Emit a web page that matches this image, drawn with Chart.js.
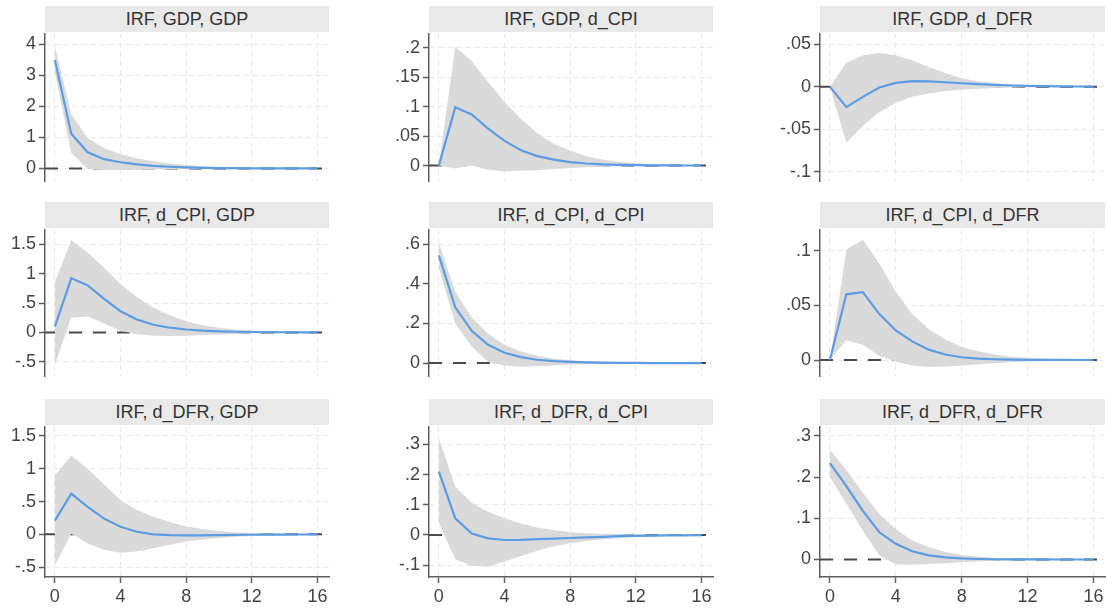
<!DOCTYPE html>
<html><head><meta charset="utf-8">
<script src="https://cdn.jsdelivr.net/npm/chart.js@4/dist/chart.umd.min.js"></script>
<style>
html,body{margin:0;padding:0;background:#fff;width:1108px;height:611px;overflow:hidden;}
.title{position:absolute;background:#e9e9e9;color:#333;font:18px "Liberation Sans",Arial,sans-serif;text-align:center;white-space:nowrap;}
canvas{position:absolute;}
</style></head><body>
<script>
// ---------- data ----------
const steps = [0,1,2,3,4,5,6,7,8,9,10,11,12,13,14,15,16];
const xTicks = [0,4,8,12,16];
const titles = ['IRF, GDP, GDP','IRF, GDP, d_CPI','IRF, GDP, d_DFR',
                'IRF, d_CPI, GDP','IRF, d_CPI, d_CPI','IRF, d_CPI, d_DFR',
                'IRF, d_DFR, GDP','IRF, d_DFR, d_CPI','IRF, d_DFR, d_DFR'];

const irf_GDP_GDP = [3.5,1.12,0.52,0.3,0.2,0.13,0.085,0.055,0.035,0.022,0.014,0.009,0.006,0.004,0.002,0.001,0.001];
const hi_GDP_GDP  = [3.95,1.75,0.98,0.66,0.46,0.33,0.23,0.16,0.11,0.075,0.05,0.033,0.022,0.014,0.009,0.006,0.004];
const lo_GDP_GDP  = [3.1,0.5,-0.02,-0.05,-0.05,-0.045,-0.035,-0.028,-0.02,-0.015,-0.01,-0.007,-0.005,-0.003,-0.002,-0.001,-0.001];

const irf_GDP_CPI = [0,0.099,0.087,0.063,0.042,0.026,0.016,0.01,0.006,0.0035,0.002,0.0012,0.0007,0.0004,0.0002,0.0001,0.0001];
const hi_GDP_CPI  = [0,0.202,0.178,0.142,0.108,0.079,0.055,0.037,0.025,0.016,0.01,0.006,0.004,0.0025,0.0015,0.001,0.0006];
const lo_GDP_CPI  = [0,-0.005,0.0,-0.007,-0.01,-0.009,-0.008,-0.006,-0.004,-0.003,-0.002,-0.0013,-0.0008,-0.0005,-0.0003,-0.0002,-0.0001];

const irf_GDP_DFR = [0,-0.024,-0.012,-0.001,0.0045,0.0065,0.0062,0.0052,0.004,0.003,0.0021,0.0014,0.0009,0.0006,0.0004,0.0002,0.0001];
const hi_GDP_DFR  = [0,0.028,0.037,0.0395,0.037,0.031,0.023,0.016,0.01,0.0065,0.0042,0.0027,0.0017,0.0011,0.0007,0.0004,0.0003];
const lo_GDP_DFR  = [0,-0.066,-0.046,-0.03,-0.019,-0.012,-0.008,-0.005,-0.0035,-0.0024,-0.0016,-0.001,-0.0007,-0.0004,-0.0003,-0.0002,-0.0001];

const irf_CPI_GDP = [0.1,0.92,0.8,0.57,0.36,0.22,0.13,0.08,0.05,0.03,0.018,0.011,0.007,0.004,0.0025,0.0015,0.001];
const hi_CPI_GDP  = [0.85,1.57,1.36,1.1,0.82,0.6,0.42,0.29,0.19,0.12,0.08,0.05,0.032,0.02,0.013,0.008,0.005];
const lo_CPI_GDP  = [-0.55,0.25,0.27,0.15,0.03,-0.03,-0.055,-0.06,-0.055,-0.045,-0.035,-0.025,-0.016,-0.01,-0.006,-0.004,-0.002];

const irf_CPI_CPI = [0.543,0.281,0.163,0.092,0.052,0.03,0.017,0.01,0.006,0.0035,0.002,0.0012,0.0007,0.0004,0.0002,0.0001,0.0001];
const hi_CPI_CPI  = [0.605,0.36,0.23,0.148,0.092,0.058,0.037,0.023,0.015,0.009,0.006,0.004,0.0025,0.0015,0.001,0.0006,0.0004];
const lo_CPI_CPI  = [0.48,0.2,0.085,0.006,-0.012,-0.018,-0.016,-0.012,-0.008,-0.005,-0.003,-0.002,-0.0012,-0.0008,-0.0005,-0.0003,-0.0002];

const irf_CPI_DFR = [0,0.06,0.062,0.042,0.027,0.017,0.0095,0.005,0.0025,0.0013,0.0007,0.0004,0.0002,0.0001,0.0001,0,0];
const hi_CPI_DFR  = [0,0.101,0.11,0.088,0.0625,0.042,0.028,0.019,0.012,0.008,0.005,0.003,0.002,0.0013,0.0008,0.0005,0.0003];
const lo_CPI_DFR  = [0,0.018,0.014,0.004,-0.0015,-0.005,-0.0065,-0.006,-0.005,-0.004,-0.003,-0.002,-0.0013,-0.0008,-0.0005,-0.0003,-0.0002];

const irf_DFR_GDP = [0.21,0.62,0.42,0.24,0.116,0.04,0.0,-0.012,-0.016,-0.015,-0.012,-0.009,-0.006,-0.004,-0.003,-0.002,-0.001];
const hi_DFR_GDP  = [0.9,1.2,1.0,0.76,0.52,0.37,0.27,0.19,0.12,0.08,0.05,0.03,0.02,0.012,0.008,0.005,0.003];
const lo_DFR_GDP  = [-0.47,0.01,-0.14,-0.24,-0.28,-0.26,-0.21,-0.16,-0.11,-0.08,-0.055,-0.037,-0.025,-0.016,-0.01,-0.007,-0.005];

const irf_DFR_CPI = [0.21,0.055,0.005,-0.011,-0.0165,-0.016,-0.014,-0.012,-0.01,-0.008,-0.006,-0.004,-0.003,-0.002,-0.0015,-0.001,-0.0005];
const hi_DFR_CPI  = [0.32,0.16,0.107,0.077,0.055,0.038,0.025,0.016,0.01,0.006,0.004,0.003,0.002,0.001,0.0007,0.0004,0.0002];
const lo_DFR_CPI  = [0.04,-0.08,-0.102,-0.105,-0.088,-0.07,-0.052,-0.037,-0.027,-0.02,-0.014,-0.01,-0.007,-0.005,-0.003,-0.002,-0.001];

const irf_DFR_DFR = [0.234,0.178,0.118,0.066,0.038,0.02,0.01,0.005,0.0025,0.0012,0.0006,0.0003,0.0002,0.0001,0,0,0];
const hi_DFR_DFR  = [0.266,0.217,0.162,0.11,0.074,0.046,0.03,0.018,0.011,0.007,0.004,0.0025,0.0015,0.001,0.0006,0.0004,0.0002];
const lo_DFR_DFR  = [0.2,0.135,0.07,0.01,-0.012,-0.013,-0.011,-0.009,-0.007,-0.005,-0.003,-0.002,-0.0012,-0.0008,-0.0005,-0.0003,-0.0002];

const yTicks_GDP_GDP = [0,1,2,3,4];
const yTicks_GDP_CPI = [0,0.05,0.1,0.15,0.2];
const yTicks_GDP_DFR = [-0.1,-0.05,0,0.05];
const yTicks_CPI_GDP = [-0.5,0,0.5,1,1.5];
const yTicks_CPI_CPI = [0,0.2,0.4,0.6];
const yTicks_CPI_DFR = [0,0.05,0.1];
const yTicks_DFR_GDP = [-0.5,0,0.5,1,1.5];
const yTicks_DFR_CPI = [-0.1,0,0.1,0.2,0.3];
const yTicks_DFR_DFR = [0,0.1,0.2,0.3];

const yMin = [-0.41,-0.0266,-0.1112,-0.744,-0.066,-0.0148,-0.65,-0.139,-0.0425];
const yMax = [4.34,0.2241,0.0622,1.744,0.672,0.119,1.64,0.358,0.322];
const X_MIN = -0.6, X_MAX = 16.7;

// ---------- layout / style ----------
const colLeft = [45,429,820], colW = [284,284,285];
const rowTop = [32,228,425], rowH = [151,150,152];
const TITLE_H = 26, PAD_L = 45, PAD_T = 12, PAD_R = 14, PAD_B = 12, XAX_H = 34;
const FONT = '"Liberation Sans", Arial, sans-serif';
const BLUE = '#5b9ce4', BAND = '#dadada', GRID = '#e9e9e9', AXIS = '#5e5e5e', TICK = '#444', ZERO = '#4a4a4a';

const panels = [
  {irf: irf_GDP_GDP, hi: hi_GDP_GDP, lo: lo_GDP_GDP, yTicks: yTicks_GDP_GDP},
  {irf: irf_GDP_CPI, hi: hi_GDP_CPI, lo: lo_GDP_CPI, yTicks: yTicks_GDP_CPI},
  {irf: irf_GDP_DFR, hi: hi_GDP_DFR, lo: lo_GDP_DFR, yTicks: yTicks_GDP_DFR},
  {irf: irf_CPI_GDP, hi: hi_CPI_GDP, lo: lo_CPI_GDP, yTicks: yTicks_CPI_GDP},
  {irf: irf_CPI_CPI, hi: hi_CPI_CPI, lo: lo_CPI_CPI, yTicks: yTicks_CPI_CPI},
  {irf: irf_CPI_DFR, hi: hi_CPI_DFR, lo: lo_CPI_DFR, yTicks: yTicks_CPI_DFR},
  {irf: irf_DFR_GDP, hi: hi_DFR_GDP, lo: lo_DFR_GDP, yTicks: yTicks_DFR_GDP},
  {irf: irf_DFR_CPI, hi: hi_DFR_CPI, lo: lo_DFR_CPI, yTicks: yTicks_DFR_CPI},
  {irf: irf_DFR_DFR, hi: hi_DFR_DFR, lo: lo_DFR_DFR, yTicks: yTicks_DFR_DFR}
];

function fmt(v) {
  const s = String(+Number(v).toFixed(4));
  return s.replace(/^(-?)0\./, '$1.');
}
const pts = arr => steps.map((s, k) => ({x: s, y: arr[k]}));

panels.forEach((p, i) => {
  const r = Math.floor(i / 3), c = i % 3, bottom = (r === 2);
  const div = document.createElement('div');
  div.className = 'title';
  div.style.left = colLeft[c] + 'px';
  div.style.top = (rowTop[r] - TITLE_H) + 'px';
  div.style.width = colW[c] + 'px';
  div.style.height = TITLE_H + 'px';
  div.style.lineHeight = TITLE_H + 'px';
  div.textContent = titles[i];
  document.body.appendChild(div);

  const cv = document.createElement('canvas');
  const w = PAD_L + colW[c] + PAD_R, h = PAD_T + rowH[r] + (bottom ? XAX_H : PAD_B);
  cv.width = w; cv.height = h;
  cv.style.width = w + 'px'; cv.style.height = h + 'px';
  cv.style.left = (colLeft[c] - PAD_L) + 'px';
  cv.style.top = (rowTop[r] - PAD_T) + 'px';
  document.body.appendChild(cv);

  new Chart(cv, {
    type: 'line',
    data: {datasets: [
      {data: pts(p.irf), borderColor: BLUE, borderWidth: 2.2, pointRadius: 0, tension: 0, fill: false, order: 0},
      {data: pts(p.hi), borderWidth: 0, borderColor: 'rgba(0,0,0,0)', pointRadius: 0, tension: 0, fill: '+1', backgroundColor: BAND, order: 1},
      {data: pts(p.lo), borderWidth: 0, borderColor: 'rgba(0,0,0,0)', pointRadius: 0, tension: 0, fill: false, order: 2},
      {data: [{x: X_MIN, y: 0}, {x: X_MAX, y: 0}], borderColor: ZERO, borderWidth: 2, borderDash: [13, 11], pointRadius: 0, fill: false, order: 3}
    ]},
    options: {
      responsive: false, animation: false, devicePixelRatio: 1, events: [],
      layout: {padding: {left: 0, top: PAD_T, right: PAD_R, bottom: bottom ? 0 : PAD_B}},
      plugins: {legend: {display: false}, tooltip: {enabled: false}, title: {display: false}},
      scales: {
        x: {
          type: 'linear', min: X_MIN, max: X_MAX,
          afterBuildTicks: a => { a.ticks = xTicks.map(v => ({value: v})); },
          afterFit: a => { a.height = bottom ? XAX_H : 0; },
          grid: {color: GRID, lineWidth: 1, drawTicks: bottom, tickLength: 6, tickColor: AXIS, tickWidth: 1.5},
          border: {display: bottom, color: AXIS, width: 1.5, dash: [5, 4]},
          ticks: {display: bottom, font: {family: FONT, size: 18}, color: TICK, padding: 3, maxRotation: 0, autoSkip: false}
        },
        y: {
          type: 'linear', min: yMin[i], max: yMax[i],
          afterBuildTicks: a => { a.ticks = p.yTicks.map(v => ({value: v})); },
          afterFit: a => { a.width = PAD_L; },
          grid: {color: GRID, lineWidth: 1, drawTicks: true, tickLength: 6, tickColor: AXIS, tickWidth: 1.5},
          border: {display: true, color: AXIS, width: 1.5, dash: [5, 4]},
          ticks: {font: {family: FONT, size: 18}, color: TICK, padding: 3, autoSkip: false, callback: v => fmt(v)}
        }
      }
    }
  });
});
</script>
</body></html>
